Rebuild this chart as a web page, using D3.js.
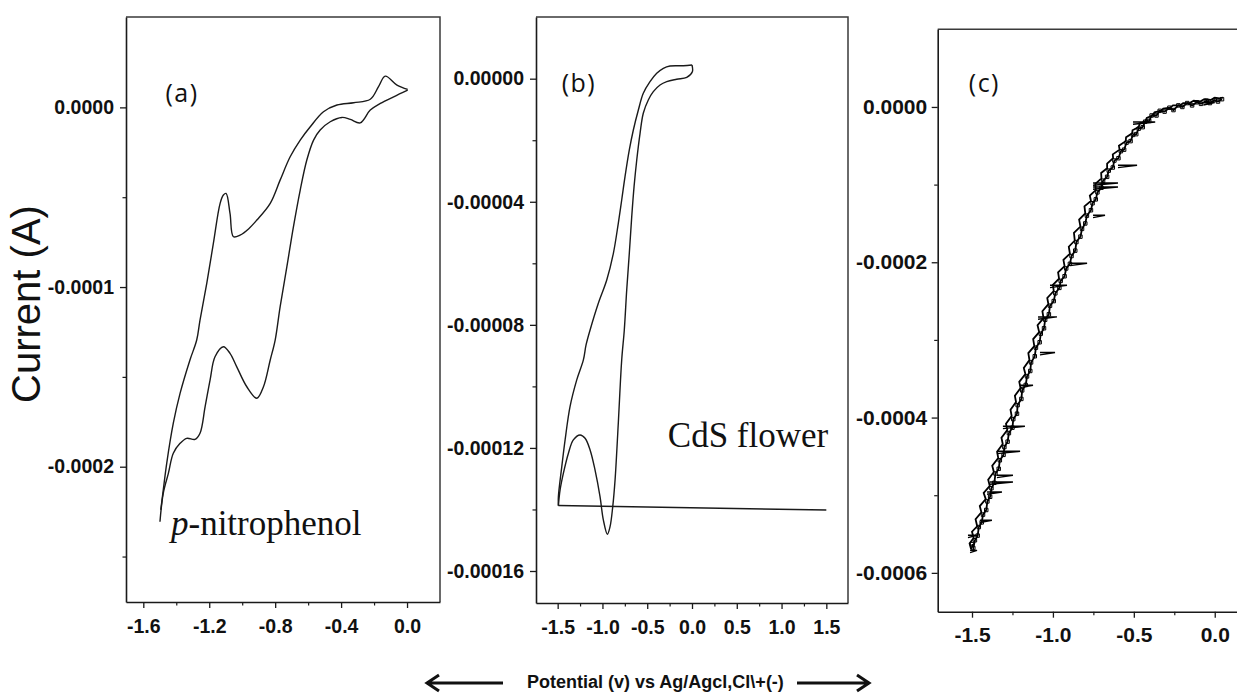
<!DOCTYPE html>
<html>
<head>
<meta charset="utf-8">
<script src="https://cdn.jsdelivr.net/npm/d3@7"></script>
<style>
  body { margin: 0; background: #fff; }
  svg { display: block; }
</style>
</head>
<body>
<svg id="fig" width="1237" height="697"></svg>
<script>
// ---------- (a) p-nitrophenol: cyclic voltammogram, potential (V) vs current (A) ----------
const aCathodic = [
  [0.004, 0.096e-4], [-0.081, 0.059e-4], [-0.162, 0.022e-4], [-0.223, -0.015e-4],
  [-0.284, -0.086e-4], [-0.344, -0.067e-4], [-0.395, -0.056e-4], [-0.466, -0.080e-4],
  [-0.527, -0.126e-4], [-0.567, -0.182e-4], [-0.608, -0.293e-4], [-0.648, -0.460e-4],
  [-0.689, -0.664e-4], [-0.729, -0.887e-4], [-0.770, -1.110e-4], [-0.800, -1.295e-4],
  [-0.830, -1.406e-4], [-0.871, -1.555e-4], [-0.911, -1.619e-4], [-0.972, -1.555e-4],
  [-1.033, -1.444e-4], [-1.074, -1.369e-4], [-1.114, -1.332e-4], [-1.165, -1.388e-4],
  [-1.195, -1.518e-4], [-1.225, -1.666e-4], [-1.256, -1.814e-4], [-1.286, -1.848e-4],
  [-1.337, -1.842e-4], [-1.377, -1.870e-4], [-1.418, -1.925e-4], [-1.448, -2.037e-4],
  [-1.479, -2.148e-4], [-1.499, -2.306e-4]
];
const aAnodic = [
  [-1.494, -2.240e-4], [-1.479, -2.130e-4], [-1.458, -1.981e-4], [-1.418, -1.758e-4],
  [-1.377, -1.592e-4], [-1.317, -1.406e-4], [-1.276, -1.295e-4], [-1.256, -1.184e-4],
  [-1.215, -0.979e-4], [-1.175, -0.757e-4], [-1.134, -0.534e-4], [-1.114, -0.488e-4],
  [-1.098, -0.479e-4], [-1.074, -0.590e-4], [-1.053, -0.720e-4], [-1.013, -0.711e-4],
  [-0.960, -0.675e-4], [-0.911, -0.627e-4], [-0.830, -0.534e-4], [-0.770, -0.405e-4],
  [-0.709, -0.275e-4], [-0.648, -0.182e-4], [-0.587, -0.108e-4], [-0.507, -0.024e-4],
  [-0.425, 0.013e-4], [-0.324, 0.026e-4], [-0.223, 0.045e-4], [-0.173, 0.115e-4],
  [-0.132, 0.174e-4], [-0.061, 0.124e-4], [0.004, 0.100e-4]
];
const aXTicks = [-1.6, -1.2, -0.8, -0.4, 0.0];
const aXMinor = [-1.4, -1.0, -0.6, -0.2];
const aYTicks = [0, -0.0001, -0.0002];
const aYMinor = [-0.00005, -0.00015, -0.00025];

// ---------- (b) CdS flower ----------
const bCathodic = [
  [0.000, 0.445e-5], [-0.097, 0.422e-5], [-0.246, 0.413e-5], [-0.320, 0.338e-5],
  [-0.394, 0.175e-5], [-0.469, -0.097e-5], [-0.544, -0.474e-5], [-0.599, -1.017e-5],
  [-0.655, -1.667e-5], [-0.700, -2.317e-5], [-0.748, -3.184e-5], [-0.785, -3.942e-5],
  [-0.823, -4.699e-5], [-0.878, -5.674e-5], [-0.952, -6.541e-5], [-1.046, -7.298e-5],
  [-1.138, -8.166e-5], [-1.183, -8.653e-5], [-1.213, -9.139e-5], [-1.287, -9.789e-5],
  [-1.362, -10.658e-5], [-1.417, -11.740e-5], [-1.454, -12.608e-5], [-1.492, -13.583e-5],
  [-1.492, -13.875e-5]
];
const bAnodic = [
  [-1.492, -13.875e-5], [-1.473, -13.365e-5], [-1.436, -12.822e-5], [-1.380, -12.172e-5],
  [-1.325, -11.740e-5], [-1.250, -11.578e-5], [-1.194, -11.685e-5], [-1.138, -12.065e-5],
  [-1.083, -12.715e-5], [-1.027, -13.583e-5], [-0.990, -14.340e-5], [-0.945, -14.804e-5],
  [-0.915, -14.557e-5], [-0.885, -13.907e-5], [-0.859, -13.040e-5], [-0.823, -11.197e-5],
  [-0.785, -9.141e-5], [-0.756, -8.166e-5], [-0.729, -6.866e-5], [-0.700, -5.674e-5],
  [-0.673, -4.484e-5], [-0.647, -3.509e-5], [-0.617, -2.642e-5], [-0.580, -1.774e-5],
  [-0.544, -1.124e-5], [-0.488, -0.692e-5], [-0.432, -0.422e-5], [-0.357, -0.205e-5],
  [-0.282, -0.097e-5], [-0.171, -0.019e-5], [-0.059, 0.045e-5], [0.004, 0.227e-5],
  [0.000, 0.445e-5]
];
const bSweep = [[-1.492, -13.875e-5], [1.5, -14.015e-5]];
const bXTicks = [-1.5, -1.0, -0.5, 0.0, 0.5, 1.0, 1.5];
const bXMinor = [-1.25, -0.75, -0.25, 0.25, 0.75, 1.25];
const bYTicks = [0, -0.00004, -0.00008, -0.00012, -0.00016];
const bYMinor = [-0.00002, -0.00006, -0.0001, -0.00014];

// ---------- (c) noisy scan ----------
const cForward = [
  [0.045, 0.10e-4], [0.020, 0.07e-4], [0.000, 0.09e-4], [-0.030, 0.05e-4], [-0.050, 0.08e-4],
  [-0.085, 0.04e-4], [-0.110, 0.06e-4], [-0.140, 0.02e-4], [-0.170, 0.05e-4], [-0.200, 0.00e-4],
  [-0.225, 0.02e-4], [-0.255, -0.04e-4], [-0.280, -0.01e-4], [-0.310, -0.06e-4], [-0.340, -0.05e-4],
  [-0.360, -0.11e-4], [-0.390, -0.11e-4], [-0.405, -0.18e-4], [-0.430, -0.19e-4], [-0.445, -0.26e-4],
  [-0.470, -0.28e-4], [-0.485, -0.35e-4], [-0.505, -0.36e-4], [-0.520, -0.44e-4], [-0.545, -0.46e-4],
  [-0.560, -0.55e-4], [-0.580, -0.57e-4], [-0.595, -0.66e-4], [-0.620, -0.69e-4], [-0.630, -0.78e-4],
  [-0.655, -0.82e-4], [-0.665, -0.90e-4], [-0.690, -0.95e-4], [-0.700, -1.04e-4], [-0.725, -1.10e-4],
  [-0.735, -1.19e-4], [-0.755, -1.24e-4], [-0.765, -1.33e-4], [-0.790, -1.40e-4], [-0.800, -1.50e-4],
  [-0.820, -1.57e-4], [-0.830, -1.67e-4], [-0.855, -1.74e-4], [-0.862, -1.85e-4], [-0.885, -1.92e-4],
  [-0.895, -2.02e-4], [-0.918, -2.08e-4], [-0.928, -2.18e-4], [-0.952, -2.24e-4], [-0.960, -2.33e-4],
  [-0.985, -2.40e-4], [-0.995, -2.50e-4], [-1.018, -2.56e-4], [-1.025, -2.67e-4], [-1.048, -2.74e-4],
  [-1.055, -2.85e-4], [-1.075, -2.92e-4], [-1.082, -3.03e-4], [-1.105, -3.10e-4], [-1.112, -3.21e-4],
  [-1.135, -3.29e-4], [-1.140, -3.40e-4], [-1.160, -3.47e-4], [-1.168, -3.58e-4], [-1.190, -3.65e-4],
  [-1.195, -3.76e-4], [-1.218, -3.84e-4], [-1.222, -3.95e-4], [-1.245, -4.02e-4], [-1.250, -4.13e-4],
  [-1.272, -4.20e-4], [-1.280, -4.31e-4], [-1.300, -4.38e-4], [-1.305, -4.48e-4], [-1.328, -4.55e-4],
  [-1.335, -4.66e-4], [-1.355, -4.72e-4], [-1.362, -4.84e-4], [-1.380, -4.91e-4], [-1.388, -5.02e-4],
  [-1.405, -5.08e-4], [-1.412, -5.19e-4], [-1.432, -5.25e-4], [-1.440, -5.35e-4], [-1.458, -5.41e-4],
  [-1.465, -5.52e-4], [-1.482, -5.58e-4], [-1.492, -5.68e-4], [-1.500, -5.63e-4]
];
const cReverse = [
  [-1.505, -5.70e-4], [-1.515, -5.62e-4], [-1.490, -5.55e-4], [-1.500, -5.47e-4], [-1.468, -5.40e-4],
  [-1.478, -5.31e-4], [-1.442, -5.22e-4], [-1.452, -5.14e-4], [-1.415, -5.05e-4], [-1.428, -4.97e-4],
  [-1.390, -4.88e-4], [-1.400, -4.80e-4], [-1.365, -4.70e-4], [-1.375, -4.62e-4], [-1.338, -4.52e-4],
  [-1.345, -4.44e-4], [-1.310, -4.34e-4], [-1.318, -4.26e-4], [-1.282, -4.16e-4], [-1.290, -4.08e-4],
  [-1.255, -3.98e-4], [-1.262, -3.90e-4], [-1.228, -3.80e-4], [-1.235, -3.72e-4], [-1.200, -3.62e-4],
  [-1.208, -3.54e-4], [-1.170, -3.44e-4], [-1.180, -3.36e-4], [-1.145, -3.26e-4], [-1.152, -3.17e-4],
  [-1.115, -3.08e-4], [-1.122, -2.99e-4], [-1.085, -2.90e-4], [-1.095, -2.81e-4], [-1.058, -2.72e-4],
  [-1.065, -2.63e-4], [-1.028, -2.54e-4], [-1.035, -2.46e-4], [-0.995, -2.37e-4], [-1.000, -2.29e-4],
  [-0.962, -2.21e-4], [-0.968, -2.13e-4], [-0.928, -2.05e-4], [-0.935, -1.97e-4], [-0.895, -1.89e-4],
  [-0.902, -1.80e-4], [-0.865, -1.72e-4], [-0.870, -1.62e-4], [-0.830, -1.54e-4], [-0.838, -1.45e-4],
  [-0.800, -1.37e-4], [-0.805, -1.28e-4], [-0.765, -1.21e-4], [-0.772, -1.14e-4], [-0.735, -1.07e-4],
  [-0.738, -0.99e-4], [-0.700, -0.92e-4], [-0.702, -0.85e-4], [-0.665, -0.79e-4], [-0.665, -0.73e-4],
  [-0.628, -0.66e-4], [-0.630, -0.61e-4], [-0.588, -0.55e-4], [-0.592, -0.50e-4], [-0.550, -0.44e-4],
  [-0.548, -0.39e-4], [-0.510, -0.34e-4], [-0.508, -0.30e-4], [-0.470, -0.26e-4], [-0.465, -0.22e-4],
  [-0.428, -0.18e-4], [-0.420, -0.14e-4], [-0.385, -0.11e-4], [-0.372, -0.07e-4], [-0.335, -0.05e-4],
  [-0.318, -0.02e-4], [-0.275, -0.01e-4], [-0.258, 0.02e-4], [-0.215, 0.02e-4], [-0.195, 0.05e-4],
  [-0.155, 0.05e-4], [-0.130, 0.08e-4], [-0.090, 0.07e-4], [-0.065, 0.10e-4], [-0.025, 0.09e-4],
  [0.000, 0.12e-4], [0.030, 0.11e-4], [0.050, 0.12e-4]
];
// [start V, end V, current A]: short horizontal excursions in the noisy trace
const cSpikes = [
  [-0.070, 0.000, 0.055e-4], [-0.505, -0.368, -0.193e-4], [-0.598, -0.480, -0.751e-4],
  [-0.752, -0.598, -0.979e-4], [-0.752, -0.598, -1.030e-4], [-0.752, -0.678, -1.395e-4],
  [-0.894, -0.789, -2.013e-4], [-1.018, -0.913, -2.296e-4], [-1.092, -0.975, -2.704e-4],
  [-1.080, -0.987, -3.163e-4], [-1.204, -1.123, -3.584e-4], [-1.309, -1.173, -4.112e-4],
  [-1.346, -1.203, -4.434e-4], [-1.346, -1.247, -4.743e-4], [-1.389, -1.247, -4.829e-4],
  [-1.407, -1.315, -4.958e-4], [-1.451, -1.377, -5.322e-4], [-1.525, -1.469, -5.516e-4],
  [-1.512, -1.469, -5.710e-4]
];
const cXTicks = [-1.5, -1.0, -0.5, 0.0];
const cXMinor = [-1.25, -0.75, -0.25];
const cYTicks = [0, -0.0002, -0.0004, -0.0006];
const cYMinor = [-0.0001, -0.0003, -0.0005];

const yTitle = "Current (A)";
const xTitle = "Potential (v) vs Ag/Agcl,Cl\\+(-)";

// ---------- drawing ----------
const svg = d3.select("#fig");
const INK = "#1a1a1a";
const SANS = "'Liberation Sans', Arial, sans-serif";
const SERIF = "'Liberation Serif', 'Times New Roman', serif";

function drawPanel(o) {
  const x = d3.scaleLinear().domain(o.xDomain).range([o.left, o.right]);
  const y = d3.scaleLinear().domain(o.yDomain).range([o.top, o.bottom]);
  const g = svg.append("g");

  // top and right edges of the frame
  g.append("path")
    .attr("d", `M${o.left},${o.top}H${o.right}V${o.bottom}`)
    .attr("fill", "none").attr("stroke", "#3a3a3a").attr("stroke-width", 1.5);

  const styleAxis = sel => {
    sel.select(".domain").attr("stroke", INK).attr("stroke-width", 1.6);
    sel.selectAll(".tick line").attr("stroke", INK).attr("stroke-width", 1.3);
    sel.selectAll("text")
      .attr("fill", "#111")
      .style("font-family", SANS)
      .style("font-weight", "bold")
      .style("font-size", o.fontSize + "px");
  };

  // minor ticks
  g.append("g").attr("transform", `translate(0,${o.bottom})`)
    .call(d3.axisBottom(x).tickValues(o.xMinor).tickSize(3.5).tickFormat(""))
    .call(s => s.select(".domain").remove())
    .call(s => s.selectAll("line").attr("stroke", INK).attr("stroke-width", 1.2));
  g.append("g").attr("transform", `translate(${o.left},0)`)
    .call(d3.axisLeft(y).tickValues(o.yMinor).tickSize(3.5).tickFormat(""))
    .call(s => s.select(".domain").remove())
    .call(s => s.selectAll("line").attr("stroke", INK).attr("stroke-width", 1.2));

  // major ticks with labels
  g.append("g").attr("transform", `translate(0,${o.bottom})`)
    .call(d3.axisBottom(x).tickValues(o.xTicks).tickSize(6).tickSizeOuter(0)
      .tickPadding(o.xPad).tickFormat(d => d.toFixed(1)))
    .call(styleAxis);
  g.append("g").attr("transform", `translate(${o.left},0)`)
    .call(d3.axisLeft(y).tickValues(o.yTicks).tickSize(6).tickSizeOuter(0)
      .tickPadding(o.yPad).tickFormat(d => d.toFixed(o.yDigits)))
    .call(styleAxis);

  // panel tag
  g.append("text")
    .attr("x", x(o.tag.v)).attr("y", y(o.tag.i))
    .style("font-family", "'Open Sans', sans-serif")
    .style("font-size", "25px")
    .style("letter-spacing", "1.5px")
    .attr("fill", "#111")
    .text(o.tag.text);

  return { g, x, y };
}

const curve = (x, y) => d3.line().x(d => x(d[0])).y(d => y(d[1])).curve(d3.curveCatmullRom.alpha(0.5));
const straight = (x, y) => d3.line().x(d => x(d[0])).y(d => y(d[1]));

// (a)
const pa = drawPanel({
  left: 126, right: 440, top: 17, bottom: 602,
  xDomain: [-1.705, 0.2], yDomain: [0.0000503, -0.0002753],
  xTicks: aXTicks, xMinor: aXMinor, yTicks: aYTicks, yMinor: aYMinor, yDigits: 4,
  fontSize: 19.5, xPad: 11, yPad: 6,
  tag: { v: -1.466, i: 0.000003, text: "(a)" }
});
[aCathodic, aAnodic].forEach(s => pa.g.append("path")
  .attr("d", curve(pa.x, pa.y)(s))
  .attr("fill", "none").attr("stroke", INK).attr("stroke-width", 1.4));
pa.g.append("text")
  .attr("x", pa.x(-1.432)).attr("y", pa.y(-0.0002381))
  .style("font-family", SERIF).style("font-size", "35px").attr("fill", "#111")
  .call(t => {
    t.append("tspan").style("font-style", "italic").text("p");
    t.append("tspan").text("-nitrophenol");
  });

// (b)
const pb = drawPanel({
  left: 536, right: 848, top: 17, bottom: 603,
  xDomain: [-1.742, 1.742], yDomain: [0.00002005, -0.0001704],
  xTicks: bXTicks, xMinor: bXMinor, yTicks: bYTicks, yMinor: bYMinor, yDigits: 5,
  fontSize: 19.5, xPad: 11.5, yPad: 6,
  tag: { v: -1.455, i: -0.0000043, text: "(b)" }
});
[bCathodic, bAnodic].forEach(s => pb.g.append("path")
  .attr("d", curve(pb.x, pb.y)(s))
  .attr("fill", "none").attr("stroke", INK).attr("stroke-width", 1.4));
pb.g.append("path")
  .attr("d", straight(pb.x, pb.y)(bSweep))
  .attr("fill", "none").attr("stroke", INK).attr("stroke-width", 1.5);
pb.g.append("text")
  .attr("x", pb.x(-0.27)).attr("y", pb.y(-0.0001198))
  .style("font-family", SERIF).style("font-size", "35px").attr("fill", "#111")
  .text("CdS flower");

// (c)
const pc = drawPanel({
  left: 937.7, right: 1247.1, top: 29.3, bottom: 611.7,
  xDomain: [-1.712, 0.2], yDomain: [0.0001, -0.00065],
  xTicks: cXTicks, xMinor: cXMinor, yTicks: cYTicks, yMinor: cYMinor, yDigits: 4,
  fontSize: 21, xPad: 9, yPad: 4.5,
  tag: { v: -1.52, i: 0.000019, text: "(c)" }
});
[cForward, cReverse].forEach(s => pc.g.append("path")
  .attr("d", straight(pc.x, pc.y)(s))
  .attr("fill", "none").attr("stroke", "#000").attr("stroke-width", 1.8)
  .attr("stroke-linejoin", "miter"));
pc.g.append("g").selectAll("path").data(cSpikes).join("path")
  .attr("d", d => `M${pc.x(d[0])},${pc.y(d[2])}L${pc.x(d[1])},${pc.y(d[2])}L${pc.x(d[0])},${pc.y(d[2] - 0.03e-4)}`)
  .attr("fill", "none").attr("stroke", "#000").attr("stroke-width", 1.4);
pc.g.append("g").selectAll("path").data(cForward).join("path")
  .attr("transform", d => `translate(${pc.x(d[0])},${pc.y(d[1])})`)
  .attr("d", d3.symbol(d3.symbolSquare, 12))
  .attr("fill", "none").attr("stroke", "#000").attr("stroke-width", 1);

// shared axis titles
svg.append("text")
  .attr("transform", "translate(40,304) rotate(-90)")
  .attr("text-anchor", "middle")
  .style("font-family", SANS).style("font-size", "40px").attr("fill", "#111")
  .text(yTitle);

svg.append("text")
  .attr("x", 527).attr("y", 688)
  .style("font-family", SANS).style("font-weight", "bold").style("font-size", "18px")
  .attr("fill", "#111")
  .text(xTitle);

// direction arrows either side of the potential title
const arrows = svg.append("g").attr("fill", "none").attr("stroke", "#111")
  .attr("stroke-width", 3).attr("stroke-linejoin", "miter");
arrows.append("path").attr("d", "M503,683H427M439,675L427,683L439,691");
arrows.append("path").attr("d", "M797,683H869M857,675L869,683L857,691");
</script>
</body>
</html>
